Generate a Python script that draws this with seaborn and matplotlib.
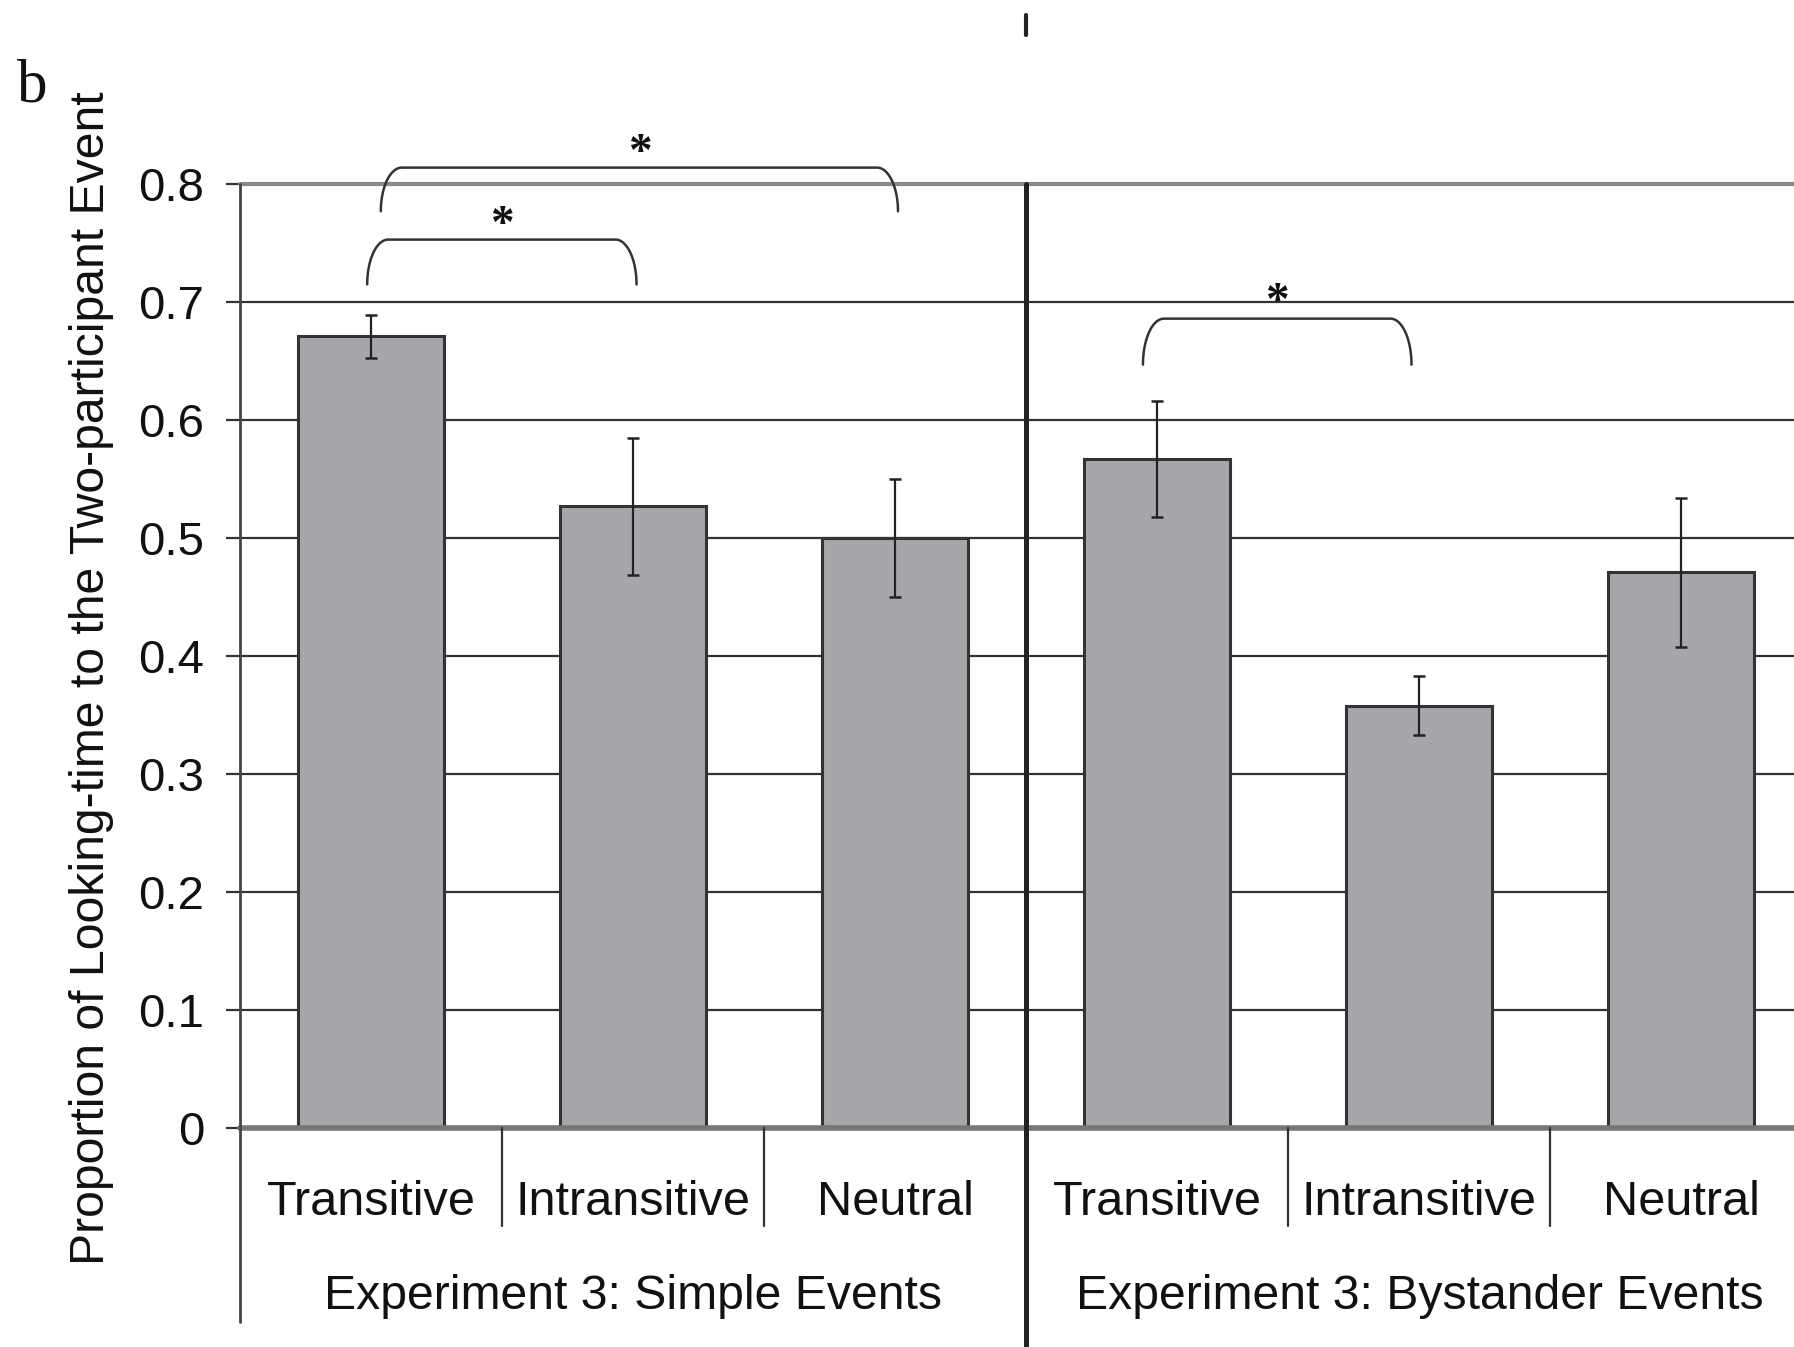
import numpy as np
import pandas as pd
import matplotlib
matplotlib.use("Agg")
import matplotlib.pyplot as plt
import matplotlib.transforms as mtransforms
from matplotlib.lines import Line2D
import seaborn as sns

# ---- data -------------------------------------------------------------
groups = ["Experiment 3: Simple Events", "Experiment 3: Bystander Events"]
conditions = ["Transitive", "Intransitive", "Neutral"]
simple_means = [0.671, 0.527, 0.500]
simple_errs = [0.018, 0.058, 0.050]
bystander_means = [0.567, 0.358, 0.471]
bystander_errs = [0.049, 0.025, 0.063]
y_ticks = [0, 0.1, 0.2, 0.3, 0.4, 0.5, 0.6, 0.7, 0.8]
y_label = "Proportion of Looking-time to the Two-participant Event"

# significance brackets: (left x, right x, leg bottom, bar top)
bracket_left = [0.036, -0.016, 2.945]
bracket_right = [2.01, 1.012, 3.97]
bracket_bottom = [0.777, 0.715, 0.647]
bracket_top = [0.814, 0.753, 0.686]
star_y = [0.835, 0.774, 0.709]

# ---- figure -----------------------------------------------------------
sns.set_theme(style="white")
plt.rcParams["font.family"] = ["Liberation Sans", "DejaVu Sans"]

fig = plt.figure(figsize=(17.94, 13.47), dpi=100)
ax = fig.add_axes([0.134, 0.1625, 0.866, 0.7008])

keys = [f"{g}|{c}" for g in groups for c in conditions]
df = pd.DataFrame({
    "key": keys,
    "value": simple_means + bystander_means,
    "err": simple_errs + bystander_errs,
})

ax.set_axisbelow(True)
ax.yaxis.grid(True, color="#333333", linewidth=1.6)
ax.xaxis.grid(False)

sns.barplot(data=df, x="key", y="value", order=keys, color="#a6a7ab",
            saturation=1, edgecolor="#333333", linewidth=2.2, width=0.558,
            errorbar=None, ax=ax, zorder=3)

xpos = np.arange(len(keys))
ax.errorbar(xpos, df["value"], yerr=df["err"], fmt="none", ecolor="#222222",
            elinewidth=1.6, capsize=4, capthick=1.8, zorder=4)

ax.set_ylim(0, 0.8)
ax.set_xlim(-0.5, 5.43)
ax.set_yticks(y_ticks)
ax.set_yticklabels([f"{t:g}" for t in y_ticks])
ax.tick_params(axis="y", which="major", direction="out", length=10, width=1.6,
               color="#333333", pad=16, labelsize=34, labelcolor="#111111", left=True)
ax.set_xticks([])
ax.set_xlabel("")
ax.set_ylabel("")
for s in ax.spines.values():
    s.set_visible(False)

# top and baseline rules
ax.axhline(0.8, color="#8a8a8a", linewidth=3, zorder=2, clip_on=False)
ax.axhline(0.0, color="#777777", linewidth=4, zorder=5, clip_on=False)

bt = mtransforms.blended_transform_factory(ax.transData, ax.transAxes)

# y axis line, running below the plot area
ax.add_line(Line2D([-0.5, -0.5], [1, -0.2055], transform=bt, color="#444444",
                   linewidth=2, clip_on=False, zorder=6))
# separator between the two experiments
ax.add_line(Line2D([2.5, 2.5], [1, -0.24], transform=bt, color="#222222",
                   linewidth=3.6, clip_on=False, zorder=6))
# short dividers between condition labels
for xb in [0.5, 1.5, 3.5, 4.5]:
    ax.add_line(Line2D([xb, xb], [0, -0.104], transform=bt, color="#333333",
                       linewidth=1.6, clip_on=False, zorder=6))

# condition and group labels
for i, k in enumerate(keys):
    ax.text(i, -0.0922, k.split("|")[1], transform=bt, ha="center",
            va="baseline", fontsize=35, color="#111111")
for j, g in enumerate(groups):
    ax.text(1 + 3 * j, -0.1917, g, transform=bt, ha="center",
            va="baseline", fontsize=34.7, color="#111111")

# significance brackets with rounded corners
r = 0.08
t = np.linspace(0, np.pi / 2, 40)
for xl, xr, yb, yt, ys in zip(bracket_left, bracket_right, bracket_bottom,
                              bracket_top, star_y):
    h = yt - yb
    lx = xl + r - r * np.cos(t)
    ly = yb + h * np.sin(t)
    rx = xr - r + r * np.cos(t[::-1])
    ry = yb + h * np.sin(t[::-1])
    bx = np.concatenate([lx, rx])
    by = np.concatenate([ly, ry])
    ax.plot(bx, by, color="#333333", linewidth=1.8, clip_on=False, zorder=6)
    ax.annotate("*", xy=((xl + xr) / 2, ys), xytext=(0, -16),
                textcoords="offset points", ha="center", va="baseline",
                fontsize=34, fontweight="bold", family=["Liberation Serif"],
                color="#111111", annotation_clip=False)

# axis title
fig.text(0.051, 0.4967, y_label, rotation=90, ha="center", va="center",
         fontsize=34.7, color="#111111")

# panel letter
fig.text(17 / 1794, 1 - 102 / 1347, "b", ha="left", va="baseline",
         fontsize=44, family=["Liberation Serif"], color="#111111")

# stub of the divider from the panel above
fig.add_artist(Line2D([1026 / 1794, 1026 / 1794], [1 - 15 / 1347, 1 - 35 / 1347],
                      transform=fig.transFigure, color="#222222", linewidth=3))

fig.savefig("out.png", dpi=100, facecolor="white")
